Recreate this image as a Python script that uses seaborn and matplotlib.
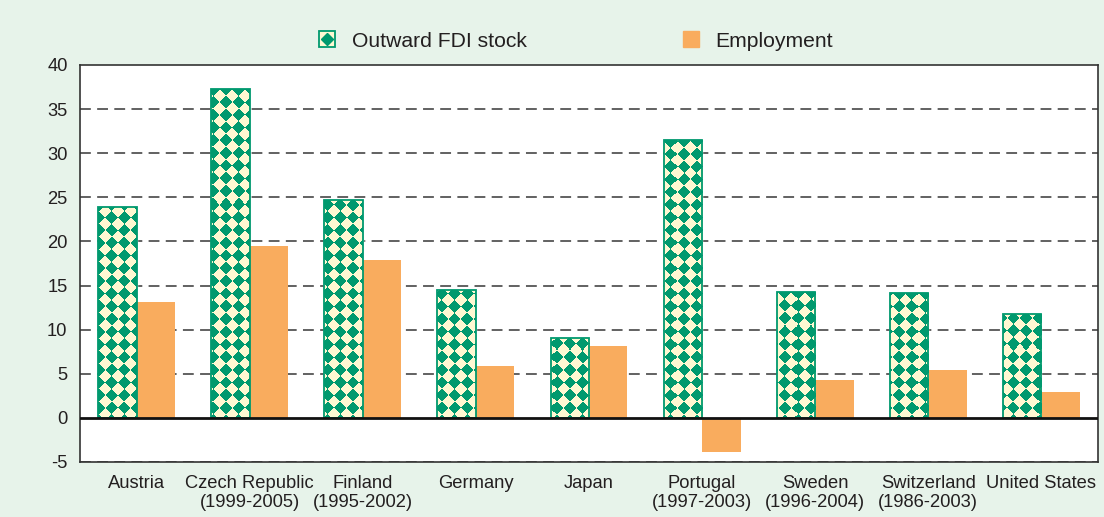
import numpy as np
import pandas as pd
import matplotlib
matplotlib.use('Agg')
import matplotlib.pyplot as plt
import seaborn as sns
from matplotlib.patches import Patch
from matplotlib.lines import Line2D
from matplotlib.colors import ListedColormap

# Data
countries = ['Austria', 'Czech Republic\n(1999-2005)', 'Finland\n(1995-2002)', 'Germany', 'Japan',
             'Portugal\n(1997-2003)', 'Sweden\n(1996-2004)', 'Switzerland\n(1986-2003)', 'United States']
fdi_stock = [23.9, 37.3, 24.7, 14.5, 9.1, 31.5, 14.3, 14.1, 11.8]
employment = [13.1, 19.5, 17.9, 5.9, 8.2, -3.9, 4.3, 5.4, 2.9]
series = ['Outward FDI stock', 'Employment']
y_ticks = [-5, 0, 5, 10, 15, 20, 25, 30, 35, 40]

df = pd.DataFrame({
    'country': countries * 2,
    'value': fdi_stock + employment,
    'series': [series[0]] * len(countries) + [series[1]] * len(countries),
})

green = '#00996E'
cream = '#FFF8D2'
orange = '#F9AC5E'
bg = '#E7F3EA'
txt = '#231F20'

sns.set_style('white')
plt.rcParams['font.family'] = ['Liberation Sans', 'DejaVu Sans']
plt.rcParams['axes.unicode_minus'] = False

DPI = 100
W, H = 1104, 517
fig = plt.figure(figsize=(W / DPI, H / DPI), dpi=DPI, facecolor=bg)
ax = fig.add_axes([80 / W, 1 - 462 / H, 1018 / W, 397 / H])
ax.set_facecolor('white')

sns.barplot(data=df, x='country', y='value', hue='series', order=countries, hue_order=series,
            palette=[cream, orange], saturation=1, width=0.68, gap=0, legend=False, ax=ax)

xlim = (-0.5, len(countries) - 0.5)
ylim = (-5, 40)
ax.set_xlim(*xlim)
ax.set_ylim(*ylim)

# diamond checkerboard texture on the axes pixel grid, clipped to each FDI bar
pw, ph = 1018, 397
u, v = np.meshgrid(np.arange(pw) + 0.5, np.arange(ph) + 0.5)
cell = 12.7
pattern = (np.floor((u + v) / cell) + np.floor((u - v) / cell)) % 2
tex_cmap = ListedColormap([green, cream])
for bar in ax.containers[0]:
    z = bar.get_zorder()
    im = ax.imshow(pattern, cmap=tex_cmap, extent=(*xlim, *ylim), aspect='auto',
                   interpolation='nearest', origin='upper', zorder=z + 0.1)
    im.set_clip_path(bar)
    # outline drawn over the texture
    ax.add_patch(plt.Rectangle(bar.get_xy(), bar.get_width(), bar.get_height(), fill=False,
                               edgecolor=green, linewidth=1.3, zorder=z + 0.2))
for bar in ax.containers[1]:
    bar.set_linewidth(0)

ax.set_xlim(*xlim)
ax.set_ylim(*ylim)
ax.set_yticks(y_ticks)
ax.set_xlabel('')
ax.set_ylabel('')

for y in y_ticks:
    if y not in (0, 40):
        ax.axhline(y, color='#555555', lw=1.3, ls=(0, (6, 3.5)), zorder=0.5)
ax.axhline(0, color='#111111', lw=2, zorder=5)

for side in ['left', 'right', 'top', 'bottom']:
    ax.spines[side].set_color('#333333')
    ax.spines[side].set_linewidth(1.2)

ax.tick_params(axis='both', length=0, labelsize=13.2, colors=txt)
ax.tick_params(axis='x', pad=9)
ax.tick_params(axis='y', pad=9)

handles = [(Patch(facecolor=cream, edgecolor=green, linewidth=1.3),
            Line2D([], [], marker='D', color=green, ls='', markersize=6)),
           Patch(facecolor=orange, edgecolor=orange)]
fig.legend(handles, series, loc='center', bbox_to_anchor=(0.5217, 0.9207), ncol=2,
           frameon=False, fontsize=15.2, handlelength=0.75, handleheight=0.75,
           handletextpad=0.8, columnspacing=7.4, labelcolor=txt)

fig.savefig('out.png', dpi=DPI, facecolor=bg)
